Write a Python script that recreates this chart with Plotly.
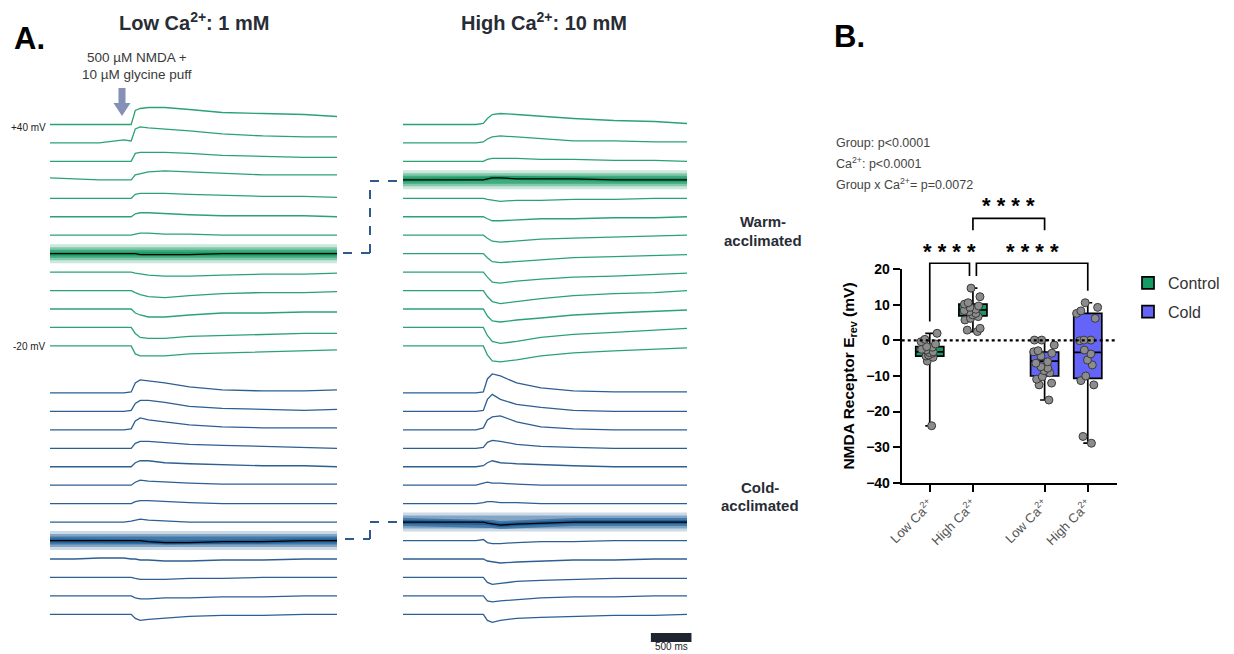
import plotly.graph_objects as go

W, H = 1234, 654

# ---------------- Panel A data (traces) ----------------
T_MS = [0, 300, 600, 900, 990, 1040, 1100, 1200, 1400, 1700, 2100, 2600, 3100, 3500]
HOLDING_MV = [40, 35, 30, 25, 20, 15, 10, 5, 0, -5, -10, -15, -20]

WARM_LOW_CA = [
    [0, 0, 0, 0, 0, 14, 16, 17, 17, 15, 12, 11, 10, 8],
    [0, 0, 0, 3, 2, 14, 16, 15, 14, 12, 9, 7, 6, 6],
    [0, 0, 0, 0, 0, 8, 9, 9, 9, 8, 6, 5, 4, 4],
    [2, 1, 0, 0, 0, 5, 6, 8, 9, 8, 6, 5, 5, 5],
    [0, 0, 0, 0, 0, 4, 5, 5, 5, 4, 3, 2, 2, 1],
    [0, 0, 0, 0, 0, 3, 4, 4, 3, 2, 1, 1, 1, 0],
    [0, 0, 0, 0, 0, 1, 2, 2, 1, 1, 0, 0, 0, 0],
    [0, 0, 0, 0, 0, 0, -1, -1, -1, -1, 0, 0, 0, 0],
    [0, 0, 0, 0, 0, -1, -2, -3, -4, -4, -3, -2, -2, -1],
    [0, 0, 0, 0, 0, -2, -4, -6, -7, -5, -3, -2, -2, -1],
    [0, 0, 0, 0, 0, -4, -6, -8, -8, -6, -4, -4, -3, -3],
    [0, 0, 0, 0, 0, -6, -10, -11, -11, -9, -8, -7, -6, -6],
    [0, 0, 0, 0, 0, -8, -10, -10, -10, -8, -7, -6, -5, -4],
]
WARM_HIGH_CA = [
    [0, 0, 0, 0, 1, 6, 10, 11, 10, 8, 6, 4, 3, 1],
    [0, 0, 0, 0, 1, 4, 6, 7, 6, 4, 2, 2, 1, 1],
    [0, 0, 0, 0, 0, 2, 3, 3, 3, 2, 2, 1, 1, 0],
    [0, 0, 0, 0, 0, 1, 2, 2, 1, 1, 1, 0, 0, 0],
    [0, 0, 0, 0, 0, -1, -2, -3, -2, -2, -1, -1, 0, 0],
    [0, 0, 0, 0, 0, -2, -4, -4, -3, -2, -2, -1, -1, 0],
    [0, 0, 0, 0, 0, -3, -6, -7, -6, -4, -3, -2, -1, 0],
    [0, 0, 0, 0, 0, -4, -8, -9, -8, -6, -4, -3, -2, -1],
    [0, 0, 0, 0, 0, -5, -10, -11, -9, -7, -5, -4, -2, -1],
    [0, 0, 0, 0, 0, -6, -11, -13, -11, -8, -5, -3, -2, 0],
    [0, 0, 0, 0, 0, -7, -12, -13, -11, -9, -6, -4, -2, -1],
    [0, 0, 0, 0, 0, -8, -14, -16, -14, -10, -7, -5, -3, -1],
    [0, 0, 0, 0, 0, -9, -15, -16, -14, -10, -7, -5, -3, -2],
]
COLD_LOW_CA = [
    [0, 0, 0, 0, 1, 10, 13, 12, 10, 6, 3, 2, 2, 3],
    [0, 0, 0, 0, 1, 8, 11, 11, 9, 5, 3, 2, 1, 2],
    [0, 0, 0, 0, 1, 9, 12, 10, 8, 5, 3, 2, 2, 2],
    [0, 0, 0, 0, 0, 5, 7, 7, 6, 4, 3, 2, 1, 0],
    [0, 0, 0, 0, 0, 4, 6, 6, 4, 3, 2, 1, 1, 0],
    [0, 0, 0, 0, 0, 3, 5, 4, 3, 2, 1, 1, 1, 1],
    [0, 0, 0, 0, 0, 2, 3, 3, 2, 1, 0, 0, 0, 0],
    [0, 0, 0, 0, 1, 2, 3, 2, 1, 0, 0, 0, 0, 0],
    [0, 0, 0, 0, 0, 0, 0, -1, -2, -2, -1, -1, 0, 0],
    [0, 0, 1, 1, 0, 0, -1, -1, -2, -2, -1, -1, 0, 0],
    [0, 0, 0, 0, 0, -1, -2, -2, -2, -1, -1, 0, 0, 0],
    [0, 0, 0, 0, 0, -2, -3, -3, -2, -2, -1, -1, 0, 0],
    [0, 0, 0, 0, 0, -4, -6, -5, -4, -2, -1, -1, 0, 0],
]
COLD_HIGH_CA = [
    [0, 0, 0, 0, 1, 14, 19, 17, 10, 5, 2, 1, 1, 1],
    [0, 0, 0, 0, 1, 12, 17, 12, 7, 4, 1, 0, 0, 0],
    [0, 0, 0, 0, 2, 10, 13, 14, 8, 3, 1, 0, 0, 0],
    [0, 0, 0, 0, 1, 6, 8, 7, 4, 2, 1, 0, 0, 0],
    [0, 0, 0, 0, 1, 4, 6, 4, 3, 2, 1, 0, 0, 0],
    [0, 0, 0, 0, 2, 3, 2, 2, 1, 0, 0, 0, 0, 0],
    [0, 0, 0, 0, 1, 2, 2, 1, 1, 0, 0, 0, 0, 0],
    [0, 0, 0, 0, 0, -1, -2, -3, -2, -1, 0, 0, 0, 0],
    [0, 0, 0, 0, 1, -2, -3, -3, -2, -1, -1, 0, 0, 0],
    [0, 0, 0, 0, 0, -2, -3, -4, -3, -2, -1, -1, 0, 0],
    [0, 0, 0, 0, 0, -5, -7, -6, -4, -3, -2, -1, -1, -1],
    [0, 0, 0, 0, 0, -5, -6, -5, -4, -2, -1, -1, 0, 0],
    [0, 0, 0, 0, 0, -6, -8, -6, -4, -3, -2, -1, -1, 0],
]
# index of the highlighted (reversal) trace in each block
EREV_IDX = {"warm_low": 7, "warm_high": 3, "cold_low": 8, "cold_high": 7}
SCALE_BAR_MS = 500

# ---------------- Panel B data ----------------
BOX_GROUPS = ["Control", "Control", "Cold", "Cold"]
BOX_LABELS = ["Low Ca<sup>2+</sup>", "High Ca<sup>2+</sup>", "Low Ca<sup>2+</sup>", "High Ca<sup>2+</sup>"]
BOX_POS = [1, 2, 3.66, 4.66]
Q1 = [-4.4, 6.9, -10.0, -10.65]
MEDIAN = [-3.2, 8.6, -5.8, -3.35]
Q3 = [-1.75, 10.2, -3.25, 7.6]
LOWER = [-24.0, 2.5, -16.75, -28.9]
UPPER = [2.0, 14.7, 0.1, 10.6]
POINTS = [
    [2.0, 0.3, -0.35, -1.0, -1.75, -1.9, -2.5, -2.7, -3.2, -3.4, -3.6, -4.1, -4.4, -4.75, -5.8, -24.0],
    [14.7, 12.3, 10.6, 10.2, 9.7, 9.3, 8.75, 8.4, 8.1, 7.6, 7.2, 6.7, 6.2, 5.75, 3.4, 2.9, 2.5],
    [0.1, 0.1, -1.3, -3.2, -2.9, -3.6, -4.4, -6.0, -6.4, -7.4, -7.8, -8.5, -9.1, -10.2, -10.9, -12.0, -12.5, -16.75],
    [10.6, 9.3, 8.3, 7.6, 6.2, 0.1, 0.1, -0.1, -2.7, -3.8, -5.5, -6.9, -10.0, -11.3, -12.5, -27.0, -28.9],
]
# significance brackets: (x_left, x_right, y_top, y_left_end, y_right_end, x_label, y_label)
BRACKETS = [
    (1.0, 1.92, 21.7, 5.3, 18.1, 1.46, 25.0),
    (2.08, 4.66, 21.7, 18.1, 14.0, 3.37, 25.0),
    (2.0, 3.66, 34.3, 31.0, 31.0, 2.83, 37.8),
]
STATS_LINES = ["Group: p&lt;0.0001", "Ca<sup>2+</sup>: p&lt;0.0001", "Group x Ca<sup>2+</sup>= p=0.0072"]

# ---------------- styling ----------------
FONT = "Liberation Sans, Arial, sans-serif"
GREEN = "#2aa374"
BLUE = "#2d5f92"
GLOW_GREEN = "#179a63"
GLOW_BLUE = "#1b5a94"
CTRL_FILL = "#169b64"
COLD_FILL = "#6464f8"
TITLE_COL = "#272c35"


def px(xp):
    return xp / W


def py(yp):
    return 1 - yp / H


S = 18.45          # vertical spacing between sweeps (y units)
BLUE_START = 14.55  # slot where the cold block starts

fig = go.Figure()


def add_block(block, xaxis, slot0, color, glow, hl):
    for k, vals in enumerate(block):
        off = -S * (slot0 + k)
        y = [off + v for v in vals]
        if k == hl:
            for w, op in [(19, 0.22), (13, 0.4), (8, 0.6), (4, 0.8)]:
                fig.add_trace(go.Scatter(x=T_MS, y=y, mode="lines", line=dict(color=glow, width=w),
                                         opacity=op, xaxis=xaxis, yaxis="y", showlegend=False,
                                         hoverinfo="skip"))
            fig.add_trace(go.Scatter(x=T_MS, y=y, mode="lines", line=dict(color="#000000", width=1.3),
                                     xaxis=xaxis, yaxis="y", showlegend=False,
                                     name=f"{HOLDING_MV[k]} mV"))
        else:
            fig.add_trace(go.Scatter(x=T_MS, y=y, mode="lines", line=dict(color=color, width=1.3),
                                     xaxis=xaxis, yaxis="y", showlegend=False,
                                     name=f"{HOLDING_MV[k]} mV"))


add_block(WARM_LOW_CA, "x", 0, GREEN, GLOW_GREEN, EREV_IDX["warm_low"])
add_block(WARM_HIGH_CA, "x2", 0, GREEN, GLOW_GREEN, EREV_IDX["warm_high"])
add_block(COLD_LOW_CA, "x", BLUE_START, BLUE, GLOW_BLUE, EREV_IDX["cold_low"])
add_block(COLD_HIGH_CA, "x2", BLUE_START, BLUE, GLOW_BLUE, EREV_IDX["cold_high"])

# scale bar (500 ms) on the right column time axis
fig.add_trace(go.Scatter(x=[3055, 3055 + SCALE_BAR_MS], y=[-513, -513], mode="lines",
                         line=dict(color="#1e2430", width=9), xaxis="x2", yaxis="y",
                         showlegend=False, hoverinfo="skip"))

# ---------------- Panel B ----------------
fig.add_trace(go.Scatter(x=[0.35, 5.33], y=[0, 0], mode="lines",
                         line=dict(color="black", width=2.2, dash="dot"),
                         xaxis="x3", yaxis="y3", showlegend=False, hoverinfo="skip"))

for i in range(4):
    fill = CTRL_FILL if BOX_GROUPS[i] == "Control" else COLD_FILL
    fig.add_trace(go.Box(x=[BOX_POS[i]], q1=[Q1[i]], median=[MEDIAN[i]], q3=[Q3[i]],
                         lowerfence=[LOWER[i]], upperfence=[UPPER[i]], width=0.65,
                         fillcolor=fill, line=dict(color="black", width=1.7), whiskerwidth=0.32,
                         boxpoints=False, name=BOX_GROUPS[i], legendgroup=BOX_GROUPS[i],
                         showlegend=(i in (0, 2)), xaxis="x3", yaxis="y3"))

for i in range(4):
    fig.add_trace(go.Box(x=[BOX_POS[i]] * len(POINTS[i]), y=POINTS[i], width=0.65,
                         boxpoints="all", jitter=0.85, pointpos=0,
                         fillcolor="rgba(0,0,0,0)", line=dict(color="rgba(0,0,0,0)", width=0),
                         whiskerwidth=0,
                         marker=dict(color="#8c8c8c", size=8, line=dict(color="#3a3a3a", width=1)),
                         showlegend=False, xaxis="x3", yaxis="y3", hoverinfo="y"))

for (xl, xr, yt, yle, yre, xlab, ylab) in BRACKETS:
    fig.add_trace(go.Scatter(x=[xl, xl, xr, xr], y=[yle, yt, yt, yre], mode="lines",
                             line=dict(color="black", width=1.7), xaxis="x3", yaxis="y4",
                             showlegend=False, hoverinfo="skip"))

annotations = []
for (xl, xr, yt, yle, yre, xlab, ylab) in BRACKETS:
    annotations.append(dict(x=xlab, y=ylab, xref="x3", yref="y4", text="* * * *", showarrow=False,
                            font=dict(family=FONT, size=22, color="black", weight="bold"),
                            xanchor="center", yanchor="middle"))

# ---------------- text ----------------
def txt(x, y, t, size, color="#222", bold=False, xanchor="center", yanchor="middle"):
    annotations.append(dict(x=px(x), y=py(y), xref="paper", yref="paper", text=t, showarrow=False,
                            xanchor=xanchor, yanchor=yanchor,
                            font=dict(family=FONT, size=size, color=color,
                                      weight="bold" if bold else "normal")))


txt(29, 38, "A.", 31, "#000", True)
txt(849, 37, "B.", 31, "#000", True)
txt(194, 22, "Low Ca<sup>2+</sup>: 1 mM", 20, TITLE_COL, True)
txt(544, 22, "High Ca<sup>2+</sup>: 10 mM", 20, TITLE_COL, True)
txt(137, 57, "500 µM NMDA +", 13.5, "#3a3a3a")
txt(137, 74, "10 µM glycine puff", 13.5, "#3a3a3a")
txt(48, 127, f"+{HOLDING_MV[0]} mV", 10, "#222", xanchor="right")
txt(48, 346, f"{HOLDING_MV[-1]} mV", 10, "#222", xanchor="right")
txt(763, 221, "Warm-", 15, TITLE_COL, True)
txt(763, 240, "acclimated", 15, TITLE_COL, True)
txt(760, 487, "Cold-", 15, TITLE_COL, True)
txt(760, 506, "acclimated", 15, TITLE_COL, True)
annotations.append(dict(x=3055 + SCALE_BAR_MS / 2, y=py(646.5), xref="x2", yref="paper", text="500 ms",
                        showarrow=False, yanchor="middle",
                        font=dict(family=FONT, size=10, color="#222")))
for j, line in enumerate(STATS_LINES):
    txt(834, 143 + 20.3 * j, line, 12.5, "#444", xanchor="left")

# ---------------- shapes (arrow, connectors) ----------------
def path(points):
    return "M " + " L ".join(f"{px(a):.5f},{py(b):.5f}" for a, b in points) + " Z"


shapes = [
    dict(type="path", xref="paper", yref="paper",
         path=path([(118.5, 88), (125.5, 88), (125.5, 103), (130.5, 103), (122, 116),
                    (113.5, 103), (118.5, 103)]),
         fillcolor="#8490b5", line=dict(width=0)),
]
for pts in [[(343, 253), (370, 253), (370, 181), (397, 181)],
            [(345, 539), (370, 539), (370, 522), (397, 522)]]:
    for (a, b), (c, d) in zip(pts[:-1], pts[1:]):
        shapes.append(dict(type="line", xref="paper", yref="paper", x0=px(a), y0=py(b),
                           x1=px(c), y1=py(d), line=dict(color="#2e5a8c", width=2, dash="dash")))

fig.update_layout(
    width=W, height=H, margin=dict(l=0, r=0, t=0, b=0, pad=0, autoexpand=False),
    paper_bgcolor="white", plot_bgcolor="rgba(0,0,0,0)",
    font=dict(family=FONT),
    xaxis=dict(domain=[px(50), px(337)], range=[0, 3500], visible=False, anchor="y"),
    xaxis2=dict(domain=[px(403), px(403 + 3600 * 284 / 3500)], range=[0, 3600], visible=False, anchor="y"),
    yaxis=dict(domain=[py(645), py(90)], range=[-520.5, 34.5], visible=False, anchor="x"),
    xaxis3=dict(domain=[px(901.7), px(1116.7)], range=[0.35, 5.33], anchor="y3",
                showline=True, linecolor="black", linewidth=2, ticks="outside", ticklen=7,
                tickwidth=2, tickcolor="black", tickvals=BOX_POS, ticktext=BOX_LABELS,
                tickangle=-45, tickfont=dict(family=FONT, size=13, color="#555"),
                showgrid=False, zeroline=False, automargin=False),
    yaxis3=dict(domain=[py(482.7), py(269.3)], range=[-40, 20], anchor="x3",
                showline=True, linecolor="black", linewidth=2, ticks="outside", ticklen=7,
                tickwidth=2, tickcolor="black", tickvals=[-40, -30, -20, -10, 0, 10, 20],
                tickfont=dict(family=FONT, size=14, color="black", weight="bold"),
                showgrid=False, zeroline=False, automargin=False,
                title=dict(text="NMDA Receptor E<sub>rev</sub> (mV)", standoff=8,
                           font=dict(family=FONT, size=15.5, color="black", weight="bold"))),
    yaxis4=dict(domain=[py(482.7), py(190)], range=[-40, 20 + (269.3 - 190) / (213.4 / 60)],
                anchor="x3", visible=False),
    legend=dict(x=px(1128), y=py(266), xanchor="left", yanchor="top",
                font=dict(family=FONT, size=16, color="#333"), bgcolor="rgba(0,0,0,0)",
                tracegroupgap=5),
    annotations=annotations, shapes=shapes, showlegend=True,
)

fig.write_html("out.html", config={"displayModeBar": False},
               post_script="document.body.style.margin='0px';document.body.style.overflow='hidden';")
